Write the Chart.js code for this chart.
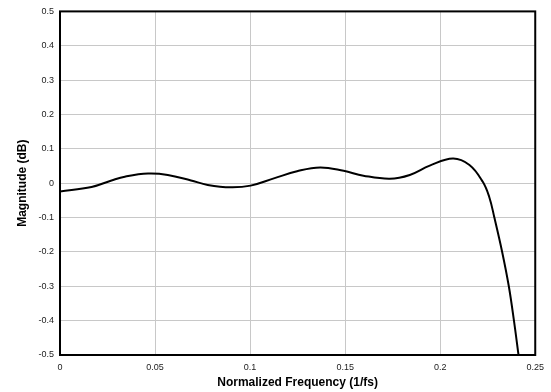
<!DOCTYPE html>
<html>
<head>
<meta charset="utf-8">
<script src="https://cdn.jsdelivr.net/npm/chart.js@4/dist/chart.umd.min.js"></script>
<style>
html,body{margin:0;padding:0;background:#fff;}
#wrap{width:551px;height:392px;position:relative;}
</style>
</head>
<body>
<div id="wrap"><canvas id="c"></canvas></div>
<script>
// Normalized frequency (1/fs) sample points
const freqs = [0, 0.0166, 0.0271, 0.0341, 0.0463, 0.0567, 0.0689, 0.0777, 0.0899, 0.1003, 0.1125, 0.1247, 0.1369, 0.1492, 0.1596, 0.1735, 0.1840, 0.1945, 0.2067, 0.2154, 0.2224, 0.2258, 0.2285, 0.2326, 0.2361, 0.2388, 0.2412];
// Magnitude (dB)
const mags  = [-0.024, -0.011, 0.008, 0.019, 0.028, 0.024, 0.008, -0.005, -0.012, -0.007, 0.014, 0.035, 0.046, 0.036, 0.022, 0.013, 0.024, 0.051, 0.072, 0.053, 0.004, -0.040, -0.100, -0.200, -0.300, -0.400, -0.500];
const xTicks = [0, 0.05, 0.1, 0.15, 0.2, 0.25];
const yTicks = [-0.5, -0.4, -0.3, -0.2, -0.1, 0, 0.1, 0.2, 0.3, 0.4, 0.5];

const points = freqs.map((f, i) => ({x: f, y: mags[i]}));

const frame = {
  id: 'frame',
  afterDatasetsDraw(chart) {
    const {ctx, chartArea: a} = chart;
    ctx.save();
    ctx.strokeStyle = '#000';
    ctx.lineWidth = 2;
    ctx.strokeRect(a.left, a.top, a.right - a.left, a.bottom - a.top);
    ctx.restore();
  }
};

const fmt = v => {
  const r = Math.round(v * 100) / 100;
  return r === 0 ? '0' : String(r);
};

new Chart(document.getElementById('c'), {
  type: 'line',
  data: {
    datasets: [{
      data: points,
      borderColor: '#000',
      borderWidth: 2,
      pointRadius: 0,
      tension: 0.4,
      fill: false
    }]
  },
  options: {
    responsive: true,
    maintainAspectRatio: false,
    animation: false,
    layout: {padding: {left: 0, right: 13, top: 11, bottom: 0}},
    plugins: {legend: {display: false}, tooltip: {enabled: false}},
    scales: {
      x: {
        type: 'linear',
        min: 0, max: 0.25,
        afterBuildTicks: s => { s.ticks = xTicks.map(v => ({value: v})); },
        afterFit: s => { s.height = 37; },
        grid: {color: '#c8c8c8', lineWidth: 1, drawTicks: false},
        border: {display: false},
        ticks: {color: '#222', font: {family: 'Liberation Sans, Arial, sans-serif', size: 9}, padding: 7, maxRotation: 0, callback: v => fmt(v)},
        title: {display: true, text: 'Normalized Frequency (1/fs)', color: '#000', font: {family: 'Liberation Sans, Arial, sans-serif', size: 12, weight: 'bold'}, padding: {top: 1, bottom: 2}}
      },
      y: {
        min: -0.5, max: 0.5,
        afterBuildTicks: s => { s.ticks = yTicks.map(v => ({value: v})); },
        afterFit: s => { s.width = 60; },
        grid: {color: '#c8c8c8', lineWidth: 1, drawTicks: false},
        border: {display: false},
        ticks: {color: '#222', font: {family: 'Liberation Sans, Arial, sans-serif', size: 9}, padding: 6, callback: v => fmt(v)},
        title: {display: true, text: 'Magnitude (dB)', color: '#000', font: {family: 'Liberation Sans, Arial, sans-serif', size: 12, weight: 'bold'}, padding: {top: 15, bottom: 0}}
      }
    }
  },
  plugins: [frame]
});
</script>
</body>
</html>
